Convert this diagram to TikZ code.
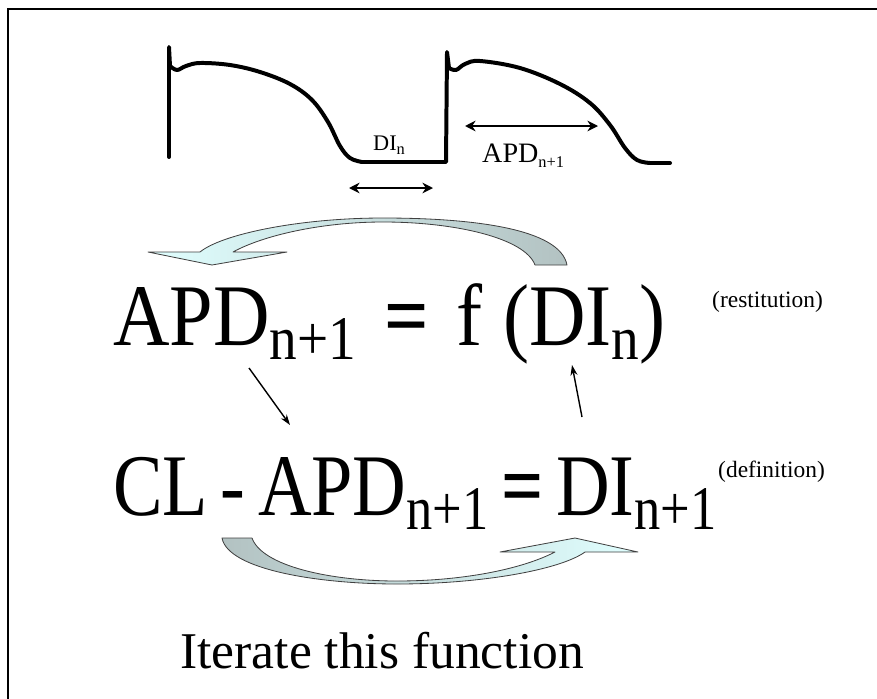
\documentclass[tikz,border=0pt]{standalone}
\usepackage{fontspec}
\setmainfont{Liberation Serif}
\usetikzlibrary{arrows.meta}
\newcommand{\dnsub}[1]{\raisebox{-0.17em}{\fontsize{53}{53}\selectfont #1}}
\newcommand{\smsub}[1]{\raisebox{-0.2em}{\fontsize{14}{14}\selectfont #1}}
\newcommand{\narrow}[2][0.89]{\scalebox{#1}[1]{#2}}
\newcommand{\eqsign}{\textbf{=}}
\tikzset{
  eqtext/.style={anchor=base west, inner sep=0pt, font=\fontsize{75}{75}\selectfont},
  note/.style={anchor=base west, inner sep=0pt, font=\fontsize{20}{20}\selectfont},
  wavelabel/.style={anchor=base west, inner sep=0pt, font=\fontsize{21}{21}\selectfont},
  wave/.style={line width=3.4pt, line join=round, line cap=round},
  span/.style={line width=2pt, {Stealth[length=9pt,width=9pt]}-{Stealth[length=9pt,width=9pt]}},
  link/.style={line width=1.2pt, -{Stealth[length=9pt,width=6pt]}},
  fatarrow/.style={draw=black!75, line width=0.7pt, line join=round}
}
\begin{document}
\begin{tikzpicture}[x=0.03cm, y=-0.03cm]
  \useasboundingbox (0,0) rectangle (877,698);
  \begin{scope}
    \clip (0,0) rectangle (877,698);
    \draw[line width=1.6pt] (8,9) rectangle (900,720);
  \end{scope}

  % two action potentials
  \draw[wave] (169,157) -- (169,47) -- (170,66)
    plot[smooth, tension=0.6] coordinates {(170,66) (177,70) (186,66) (200,63) (230,65) (260,72)
      (290,84) (312,100) (328,122) (340,146) (350,158) (362,162)}
    -- (446,162) -- (447,52) -- (449,68)
    plot[smooth, tension=0.6] coordinates {(449,68) (456,70) (465,64) (480,61) (520,68) (560,84)
      (590,103) (610,125) (625,148) (637,160) (650,163)}
    -- (670,163);
  \coordinate (di0) at (349,188);
  \coordinate (di1) at (433,188);
  \coordinate (apd0) at (465,126);
  \coordinate (apd1) at (598,126);
  \draw[span] (di0) -- (di1);
  \draw[span] (apd0) -- (apd1);
  \node[wavelabel, font=\fontsize{19}{19}\selectfont] (dilabel) at (373,150) {DI\smsub{n}};
  \node[wavelabel, font=\fontsize{24}{24}\selectfont] (apdlabel) at (482,162) {APD\smsub{n+1}};

  % upper loop arrow
  \shade[fatarrow, left color=cyan!12!white, right color=cyan!20!black!30]
    (567,265) .. controls (560,228) and (470,218) .. (383,218)
    .. controls (300,218) and (222,234) .. (200,252)
    -- (148,252) -- (212,265) -- (287,252) -- (233,252)
    .. controls (262,236) and (320,222) .. (383,222)
    .. controls (455,222) and (525,238) .. (535,265) -- cycle;

  % equations
  \node[eqtext] (restit) at (113,345)
    {\narrow{APD\dnsub{n+1}\hspace{0.36em}\eqsign\hspace{0.36em}f\hspace{0.26em}(DI\dnsub{n})}};
  \node[note] (restlabel) at (712,307) {(restitution)};
  \node[eqtext] (defin) at (113,515)
    {\narrow[0.845]{CL\hspace{0.17em}-\hspace{0.17em}APD\dnsub{n+1}\hspace{0.17em}\eqsign\hspace{0.17em}DI\dnsub{n+1}}};
  \node[note] (deflabel) at (718,477) {(definition)};

  \coordinate (apdtop) at (249,368);
  \coordinate (apdbot) at (290,425);
  \coordinate (dibot) at (582,417);
  \coordinate (ditop) at (572,365);
  \draw[link] (apdtop) -- (apdbot);
  \draw[link] (dibot) -- (ditop);

  % lower loop arrow
  \shade[fatarrow, left color=cyan!20!black!30, right color=cyan!12!white]
    (222,538) .. controls (228,570) and (320,584) .. (397,584)
    .. controls (480,584) and (560,570) .. (585,552)
    -- (638,552) -- (575,538) -- (500,552) -- (555,552)
    .. controls (520,570) and (460,581) .. (397,581)
    .. controls (330,581) and (262,566) .. (252,538) -- cycle;

  \node[anchor=base west, inner sep=0pt, font=\fontsize{44}{44}\selectfont] (iter) at (180,668) {Iterate this function};
\end{tikzpicture}
\end{document}
